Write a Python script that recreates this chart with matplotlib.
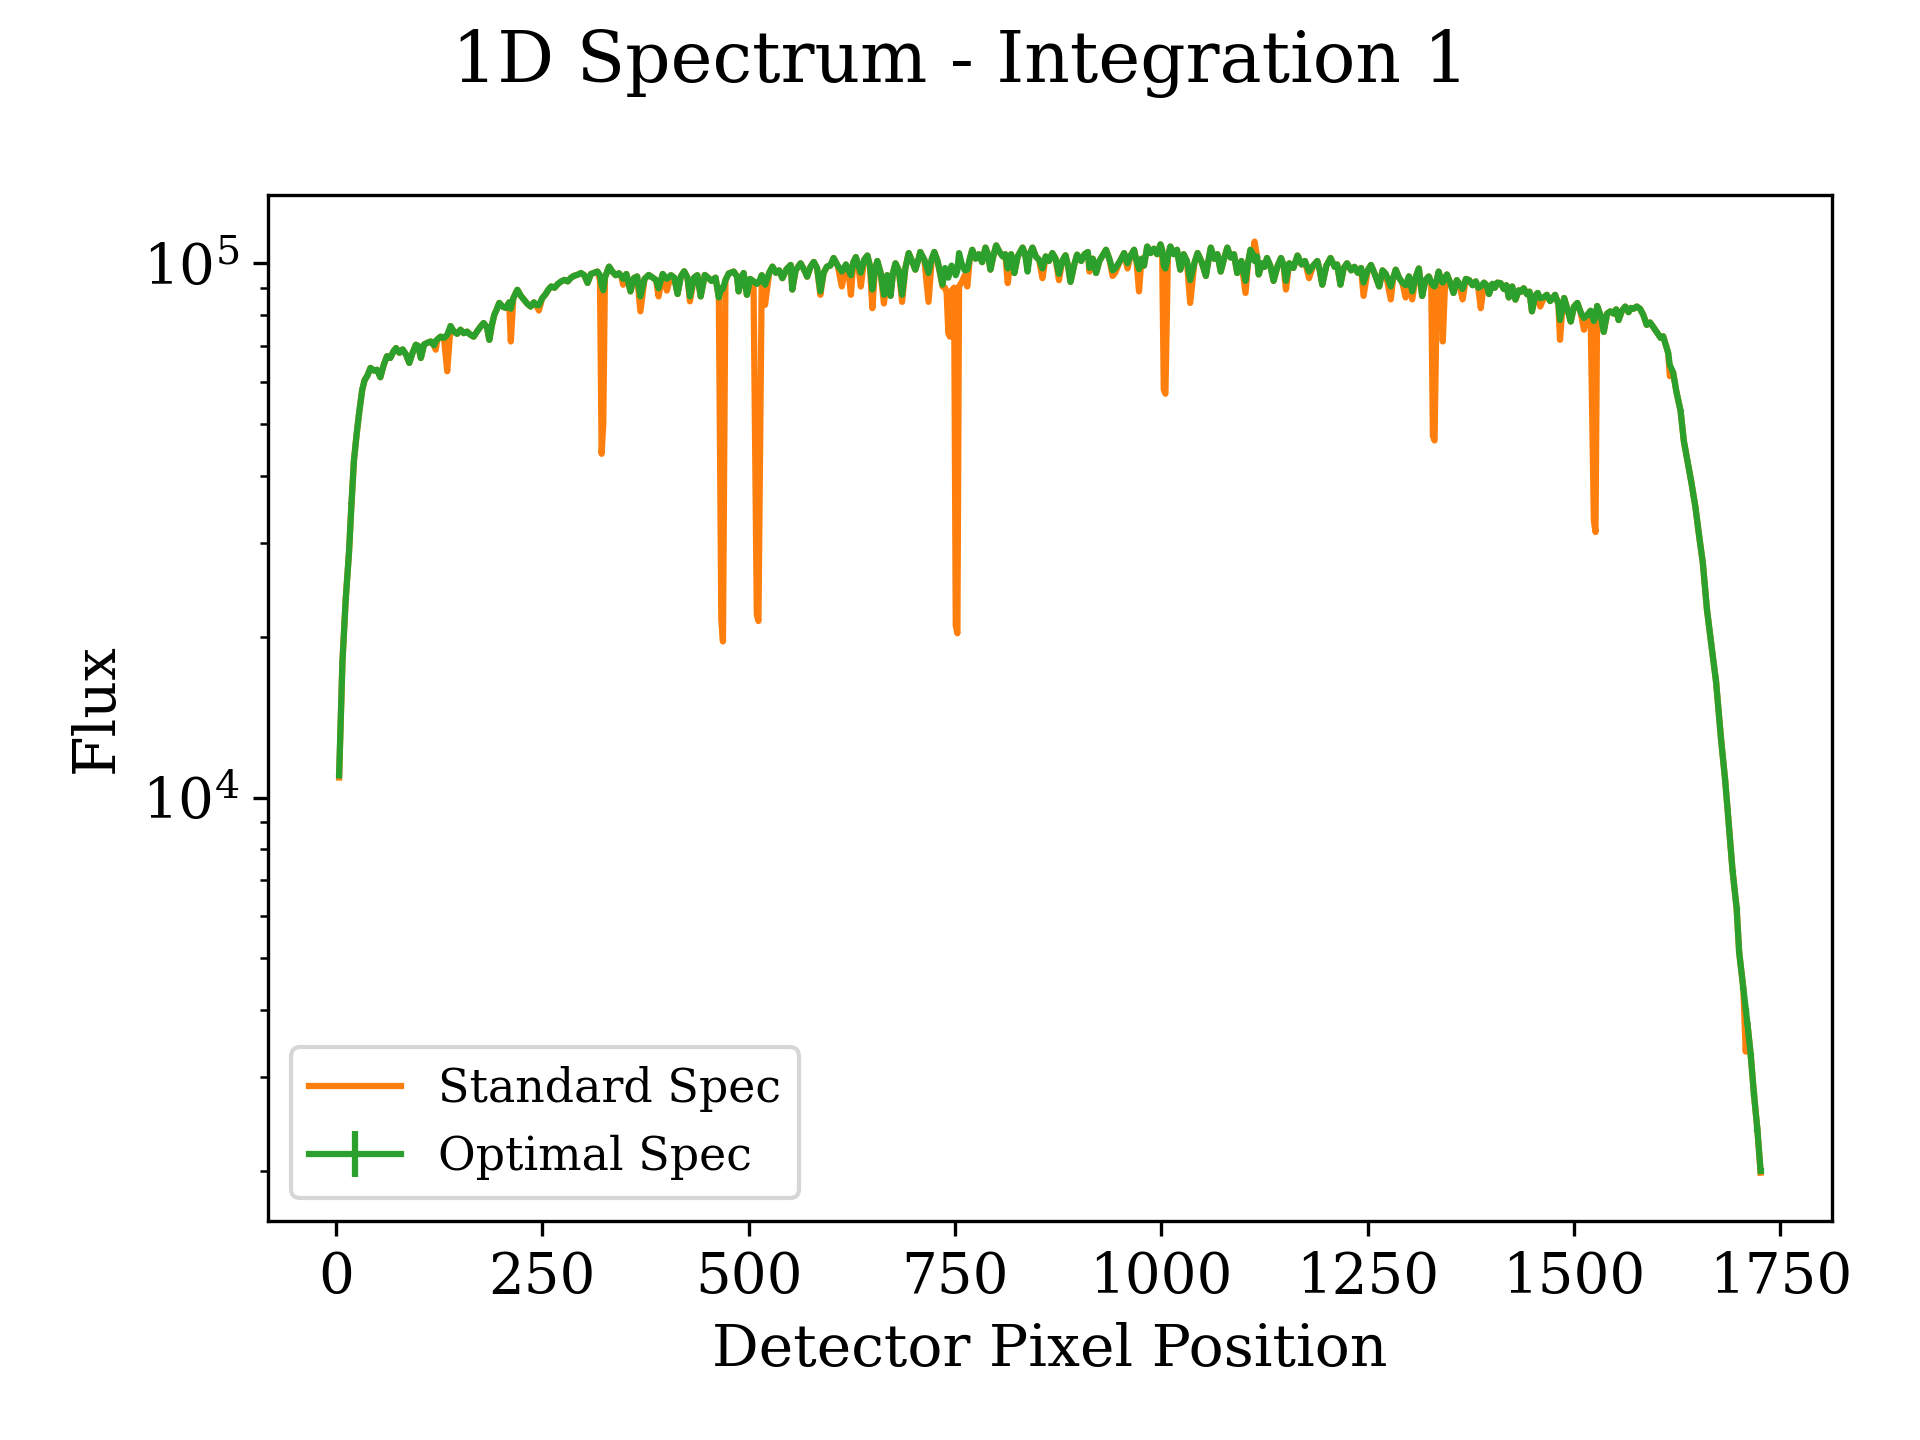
import matplotlib
matplotlib.use("Agg")
import matplotlib.pyplot as plt

# ---------------- data ----------------
pixel = [
    4, 8, 12, 16, 19, 22, 25, 28, 32, 35, 38, 42, 46, 50, 54, 58, 62, 66, 70, 73,
    77, 81, 85, 89, 93, 97, 100, 103, 107, 111, 115, 119, 121, 123, 127, 131, 135, 139, 143, 147,
    151, 155, 159, 163, 167, 171, 175, 179, 183, 186, 189, 192, 195, 198, 202, 206, 210, 212, 215, 218,
    220, 224, 228, 232, 236, 240, 243, 246, 250, 254, 258, 261, 265, 269, 273, 277, 281, 285, 289, 293,
    297, 301, 305, 309, 313, 317, 320, 322, 324, 326, 331, 335, 339, 343, 346, 348, 352, 357, 361, 365,
    369, 374, 379, 384, 388, 391, 396, 401, 406, 410, 414, 418, 422, 426, 429, 434, 438, 442, 447, 451,
    455, 460, 464, 467, 469, 472, 476, 482, 486, 488, 491, 494, 498, 502, 506, 510, 512, 516, 520, 525,
    529, 533, 537, 541, 546, 551, 553, 557, 563, 567, 571, 575, 579, 583, 587, 591, 595, 599, 603, 608,
    613, 618, 621, 624, 627, 630, 633, 636, 640, 644, 647, 650, 653, 656, 660, 664, 668, 672, 675, 678,
    682, 686, 690, 694, 698, 702, 706, 708, 713, 718, 722, 725, 729, 735, 738, 740, 742, 744, 746, 749,
    751, 753, 755, 758, 762, 765, 768, 771, 775, 779, 783, 787, 790, 793, 797, 800, 804, 808, 811, 814,
    818, 822, 826, 829, 832, 835, 838, 841, 844, 848, 852, 856, 860, 864, 868, 872, 876, 880, 884, 887,
    890, 895, 898, 903, 907, 911, 913, 917, 921, 925, 929, 933, 937, 941, 944, 950, 955, 959, 963, 967,
    970, 973, 976, 979, 983, 987, 991, 995, 999, 1001, 1003, 1005, 1008, 1011, 1015, 1019, 1023, 1027, 1031, 1035,
    1040, 1044, 1049, 1054, 1057, 1060, 1064, 1068, 1072, 1076, 1080, 1084, 1088, 1092, 1097, 1102, 1105, 1108, 1111, 1113,
    1116, 1118, 1122, 1125, 1128, 1132, 1136, 1141, 1145, 1148, 1151, 1155, 1160, 1165, 1170, 1174, 1179, 1184, 1189, 1192,
    1195, 1200, 1205, 1210, 1213, 1217, 1221, 1225, 1230, 1234, 1238, 1242, 1245, 1250, 1254, 1258, 1264, 1268, 1272, 1278,
    1281, 1284, 1288, 1292, 1296, 1300, 1304, 1308, 1312, 1316, 1320, 1324, 1327, 1329, 1331, 1334, 1336, 1339, 1341, 1344,
    1346, 1350, 1354, 1358, 1361, 1365, 1369, 1373, 1377, 1381, 1384, 1387, 1391, 1394, 1397, 1401, 1404, 1407, 1411, 1415,
    1418, 1421, 1425, 1429, 1433, 1436, 1439, 1443, 1446, 1449, 1453, 1456, 1459, 1464, 1467, 1471, 1474, 1477, 1481, 1483,
    1486, 1488, 1492, 1496, 1500, 1504, 1508, 1512, 1516, 1520, 1524, 1526, 1528, 1532, 1536, 1540, 1544, 1548, 1551, 1554,
    1558, 1562, 1566, 1569, 1572, 1576, 1580, 1584, 1588, 1592, 1596, 1600, 1605, 1608, 1611, 1614, 1616, 1620, 1624, 1629,
    1633, 1637, 1642, 1647, 1652, 1656, 1661, 1666, 1672, 1678, 1683, 1686, 1692, 1697, 1700, 1705, 1708, 1710, 1714, 1718,
    1722, 1726,
]

optimal_flux = [
    11000, 17900, 23500, 28800, 35500, 42800, 47500, 52100, 58000, 60500, 61500, 63700, 63000, 63200, 61200, 64500, 67000, 66500, 68500, 69400,
    68000, 69000, 67500, 65100, 68000, 70400, 70000, 66500, 70500, 71000, 71400, 70200, 71500, 72000, 72900, 72500, 73500, 76300, 74500, 73800,
    75100, 74000, 74500, 73500, 72900, 74500, 76000, 77300, 76000, 71900, 76500, 80100, 82000, 84300, 83000, 82500, 84500, 82200, 86000, 88000,
    89200, 87000, 85500, 84000, 83000, 84500, 83500, 83500, 86000, 87500, 89500, 90500, 90000, 91500, 92500, 93100, 92500, 94000, 94800, 95200,
    95900, 95000, 91900, 95500, 96000, 96500, 95000, 91000, 89000, 94000, 98600, 96500, 95000, 95800, 94500, 93500, 95500, 88600, 93800, 94500,
    86700, 93500, 95100, 94000, 93000, 89800, 95500, 93500, 95000, 94000, 87600, 94500, 96600, 94000, 86700, 94000, 95000, 86700, 95100, 94000,
    92700, 94000, 86300, 90000, 89500, 93000, 95700, 96500, 94500, 88600, 94000, 95900, 87300, 93500, 92500, 91500, 92000, 95000, 91200, 96000,
    98600, 96000, 97000, 93800, 97500, 99300, 89300, 97000, 100000, 97500, 94400, 98500, 100600, 98000, 88600, 96000, 98600, 99000, 102300, 99000,
    96500, 99500, 97000, 95000, 100500, 102700, 99000, 96000, 101500, 103400, 99000, 89300, 97000, 101000, 96000, 87300, 95000, 86900, 96000, 100000,
    97000, 87300, 98000, 104500, 101000, 97300, 102000, 105000, 101500, 95900, 102000, 105000, 101000, 91200, 98000, 96000, 94000, 97000, 99000, 97000,
    95000, 97000, 104500, 100000, 97000, 97300, 102000, 106000, 102000, 104000, 100500, 107000, 104000, 97300, 104000, 108000, 105000, 103000, 104000, 97800,
    104000, 95900, 103000, 105000, 107000, 104000, 96500, 104500, 107000, 103000, 101500, 97800, 103000, 101000, 104500, 102000, 95500, 101000, 103500, 99000,
    92300, 100000, 103800, 101000, 104000, 105000, 98000, 102000, 95900, 101000, 103500, 106000, 102000, 97000, 97800, 101000, 104500, 100000, 103500, 106000,
    101000, 97500, 102000, 99000, 107500, 104500, 106500, 104000, 108500, 106000, 99000, 97800, 103000, 107500, 104000, 106000, 97300, 104000, 101000, 93000,
    100000, 104500, 100500, 94700, 101000, 107000, 102000, 104000, 96500, 102000, 107000, 102500, 104000, 95900, 101000, 92700, 100000, 106000, 104000, 101000,
    103000, 95300, 100000, 98500, 102300, 99000, 92700, 99000, 102300, 99500, 92700, 100000, 98000, 103400, 99500, 101000, 96500, 99000, 101000, 97000,
    91200, 99000, 102300, 98500, 99500, 91200, 98000, 100000, 97000, 98500, 96000, 98000, 92000, 97000, 99300, 96000, 90500, 97000, 95500, 90500,
    94000, 97300, 94000, 92000, 91000, 94500, 88600, 94000, 97800, 86900, 93000, 94500, 92000, 91000, 90500, 93500, 96500, 93000, 92000, 94000,
    95300, 92000, 88000, 93000, 91500, 89500, 93500, 93000, 91000, 92500, 90000, 90500, 92000, 91000, 87600, 91500, 90000, 92000, 91800, 89500,
    91000, 86300, 90500, 85500, 89000, 88500, 89800, 87500, 88500, 81300, 87000, 88000, 86000, 86500, 87300, 85000, 86000, 87300, 84000, 78300,
    83000, 86100, 82000, 77800, 83000, 84300, 81000, 79000, 80000, 81500, 78000, 80000, 83200, 80000, 74400, 80500, 81300, 80500, 82000, 78300,
    81500, 83000, 81000, 82500, 82200, 83000, 82200, 80000, 76700, 77500, 76000, 74400, 72500, 73000, 70500, 68000, 64500, 62500, 57500, 53000,
    46500, 43000, 39000, 35000, 30500, 27500, 22500, 19500, 16500, 12900, 10800, 9500, 7300, 6200, 5140, 4400, 4000, 3780, 3300, 2780,
    2400, 2000,
]

standard_flux = [
    10900, 17900, 23500, 28800, 35500, 42800, 47500, 52100, 58000, 60500, 61500, 63700, 63000, 63200, 61200, 64500, 67000, 66500, 68500, 69400,
    68000, 69000, 67500, 65100, 68000, 70400, 70000, 66500, 70500, 71000, 71400, 70200, 68900, 72000, 72900, 72500, 62800, 76300, 74500, 73800,
    75100, 74000, 74500, 73500, 72900, 74500, 76000, 77300, 76000, 71900, 76500, 80100, 82000, 84300, 83000, 82500, 84500, 71400, 86000, 88000,
    89200, 87000, 85500, 84000, 83000, 84500, 83500, 81600, 86000, 87500, 89500, 90500, 90000, 91500, 92500, 93100, 92500, 94000, 94800, 95200,
    95900, 95000, 91900, 95500, 96000, 96500, 93000, 44000, 50000, 94000, 98600, 96500, 95000, 95800, 94500, 91200, 95500, 88600, 93800, 94500,
    81300, 93500, 95100, 94000, 93000, 86700, 95500, 88900, 95000, 94000, 87600, 94500, 96600, 94000, 84900, 94000, 95000, 86700, 95100, 94000,
    92700, 94000, 86300, 21500, 19600, 93000, 95700, 96500, 94500, 88600, 94000, 95900, 87300, 93500, 92500, 22000, 21400, 95000, 83600, 96000,
    98600, 96000, 97000, 93800, 97500, 99300, 89300, 97000, 100000, 97500, 94400, 98500, 100600, 98000, 87300, 96000, 98600, 99000, 102300, 99000,
    90500, 99500, 97000, 87300, 100500, 102700, 99000, 90500, 101500, 103400, 99000, 82400, 97000, 101000, 96000, 84100, 95000, 86900, 96000, 100000,
    97000, 84700, 98000, 104500, 101000, 97300, 102000, 105000, 101500, 84700, 102000, 105000, 101000, 90500, 90000, 88000, 74000, 72900, 89000, 90000,
    21000, 20300, 90500, 92000, 95000, 90500, 102000, 106000, 102000, 104000, 100500, 107000, 104000, 97300, 104000, 108000, 105000, 103000, 104000, 91800,
    104000, 95900, 103000, 105000, 107000, 104000, 100500, 104500, 107000, 103000, 101500, 93800, 103000, 101000, 104500, 102000, 93000, 101000, 103500, 99000,
    92300, 100000, 103800, 101000, 104000, 105000, 96500, 102000, 95900, 101000, 103500, 106000, 102000, 94700, 95900, 101000, 104500, 97800, 103500, 106000,
    101000, 88600, 102000, 99000, 107500, 104500, 106500, 104000, 108500, 106000, 58000, 57000, 103000, 107500, 104000, 106000, 97300, 104000, 101000, 84300,
    100000, 104500, 100500, 94700, 101000, 107000, 102000, 104000, 96500, 102000, 107000, 102500, 104000, 95900, 101000, 88000, 100000, 106000, 104000, 109800,
    103000, 95300, 100000, 98500, 102300, 99000, 92700, 99000, 102300, 99500, 89300, 100000, 98000, 103400, 99500, 101000, 93800, 99000, 101000, 97000,
    91200, 99000, 102300, 98500, 99500, 91200, 98000, 100000, 97000, 98500, 96000, 98000, 86900, 97000, 99300, 96000, 90500, 97000, 95500, 85600,
    94000, 97300, 94000, 92000, 86300, 94500, 85600, 94000, 97800, 86900, 93000, 94500, 92000, 47500, 46600, 93500, 96500, 93000, 71400, 94000,
    95300, 92000, 88000, 93000, 91500, 85600, 93500, 93000, 91000, 92500, 90000, 82400, 92000, 91000, 87600, 91500, 90000, 92000, 91800, 89500,
    91000, 86300, 90500, 85500, 89000, 88500, 89800, 87500, 88500, 81300, 87000, 88000, 83000, 86500, 87300, 85000, 86000, 87300, 84000, 71900,
    83000, 86100, 82000, 77800, 83000, 84300, 81000, 75100, 80000, 81500, 33000, 31400, 83200, 80000, 74400, 80500, 81300, 80500, 82000, 78300,
    81500, 83000, 81000, 82500, 82200, 83000, 82200, 80000, 76700, 77500, 76000, 74400, 72500, 73000, 70500, 68000, 61500, 62500, 57500, 53000,
    46500, 43000, 39000, 35000, 30500, 27500, 22500, 19500, 16500, 12900, 10800, 9500, 7300, 6200, 5140, 4400, 3345, 3780, 3300, 2780,
    2400, 1985,
]

optimal_err = 30  # uncertainty is below the line width everywhere

title = "1D Spectrum - Integration 1"
xlabel = "Detector Pixel Position"
ylabel = "Flux"

# ---------------- plot ----------------
plt.rcParams["font.family"] = "DejaVu Serif"

fig, ax = plt.subplots(figsize=(6.4, 4.8), dpi=300)
fig.subplots_adjust(left=0.1396, right=0.954, top=0.8646, bottom=0.152)

ax.plot(pixel, standard_flux, color="C1", lw=1.5, label="Standard Spec")
ax.errorbar(pixel, optimal_flux, yerr=optimal_err, color="C2", lw=1.5,
            label="Optimal Spec")
ax.set_yscale("log")

ax.set_xticks([0, 250, 500, 750, 1000, 1250, 1500, 1750])
ax.tick_params(axis="both", which="major", labelsize=13.5)
ax.set_xlabel(xlabel, fontsize=14)
ax.set_ylabel(ylabel, fontsize=14)
fig.suptitle(title, fontsize=17, y=0.98)

ax.legend(loc="lower left", fontsize=11)

fig.savefig("out.png", dpi=300)
